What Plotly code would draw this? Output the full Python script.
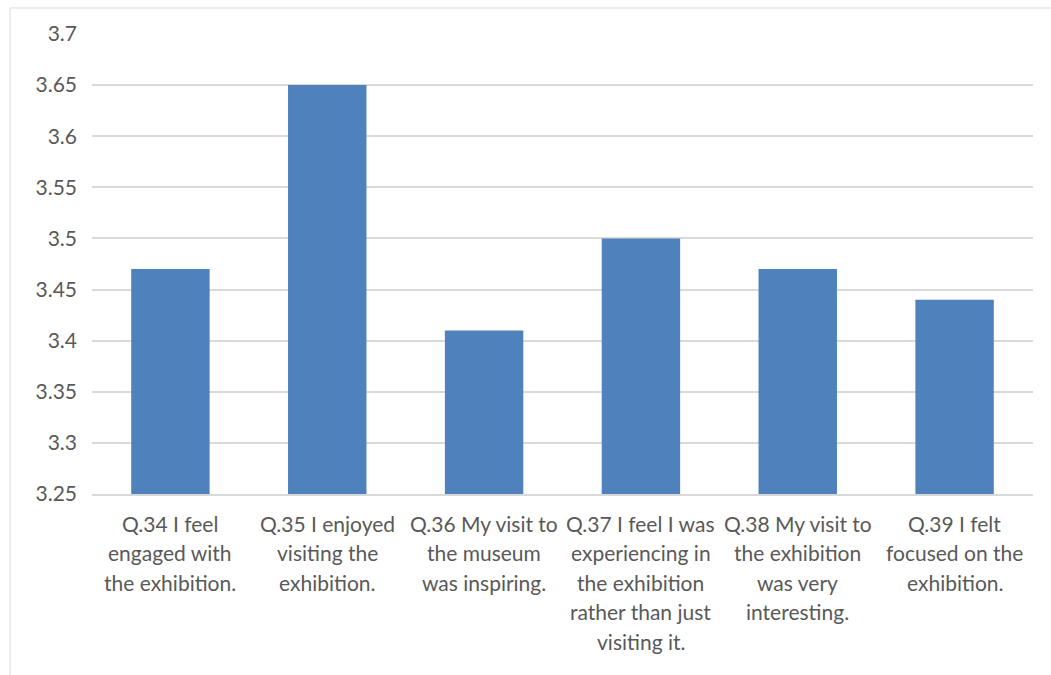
import plotly.graph_objects as go

categories = ["Q.34", "Q.35", "Q.36", "Q.37", "Q.38", "Q.39"]
values = [3.47, 3.65, 3.41, 3.50, 3.47, 3.44]
label_lines = [
    ["Q.34 I feel", "engaged with", "the exhibition."],
    ["Q.35 I enjoyed", "visiting the", "exhibition."],
    ["Q.36 My visit to", "the museum", "was inspiring."],
    ["Q.37 I feel I was", "experiencing in", "the exhibition", "rather than just", "visiting it."],
    ["Q.38 My visit to", "the exhibition", "was very", "interesting."],
    ["Q.39 I felt", "focused on the", "exhibition."],
]
y_ticks = [3.25, 3.3, 3.35, 3.4, 3.45, 3.5, 3.55, 3.6, 3.65, 3.7]
y_ticktext = ["3.25", "3.3", "3.35", "3.4", "3.45", "3.5", "3.55", "3.6", "3.65", "3.7"]

W, H = 1051, 675
L, R, T, B = 92, 18, 34, 181
PH = H - T - B
PW = W - L - R
FONT = "Lato"
TXT = "#595959"

fig = go.Figure(go.Bar(x=categories, y=values, marker=dict(color="#4F81BD", line=dict(width=0)),
                       width=0.5))

annotations = []
for cat, lines in zip(categories, label_lines):
    for i, line in enumerate(lines):
        ypx = 523 + 29.6 * i
        annotations.append(dict(x=cat, xref="x", y=-(ypx - 494) / PH,
                                yref="paper", text=line, showarrow=False, xanchor="center",
                                yanchor="middle", font=dict(family=FONT, size=21, color=TXT)))

fig.update_layout(
    width=W, height=H,
    margin=dict(l=L, r=R, t=T, b=B),
    paper_bgcolor="white", plot_bgcolor="white",
    showlegend=False,
    annotations=annotations,
    xaxis=dict(showticklabels=False, showgrid=False, showline=True, linecolor="#D9D9D9", linewidth=2,
               ticks=""),
    yaxis=dict(range=[3.25, 3.7], tickvals=y_ticks, ticktext=y_ticktext, showgrid=True,
               gridcolor="#D9D9D9", gridwidth=2, zeroline=False, showline=False,
               tickfont=dict(family=FONT, size=21, color=TXT), ticklabelstandoff=14),
    shapes=[dict(type="rect", xref="paper", yref="paper",
                 x0=(10 - L) / PW, x1=(W + 5 - L) / PW,
                 y0=-(H + 5 - T - PH) / PH, y1=1 + (T - 8) / PH,
                 line=dict(color="#D9D9D9", width=1), fillcolor="rgba(0,0,0,0)", layer="below")],
)

fig.write_html("out.html")
